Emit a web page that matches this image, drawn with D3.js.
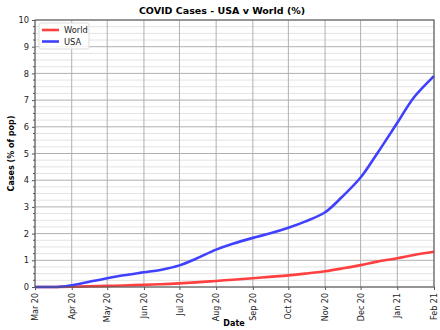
<!DOCTYPE html>
<html><head><meta charset="utf-8">
<script src="https://cdn.jsdelivr.net/npm/d3@7"></script>
<style>body{margin:0;background:#fff}svg{display:block;font-family:"DejaVu Sans",sans-serif}</style>
</head><body><svg id="c" width="440" height="330"></svg>
<script>
const dates = ["2020-03-01","2020-03-15","2020-03-22","2020-04-01","2020-04-15","2020-05-01","2020-05-15","2020-06-01","2020-06-15","2020-07-01","2020-07-15","2020-08-01","2020-08-15","2020-09-01","2020-09-15","2020-10-01","2020-10-15","2020-11-01","2020-11-15","2020-12-01","2020-12-15","2021-01-01","2021-01-15","2021-02-01"];
const usa = [0.0,0.001,0.01,0.065,0.19,0.33,0.44,0.55,0.64,0.81,1.06,1.40,1.62,1.84,2.0,2.22,2.45,2.8,3.36,4.1,5.0,6.15,7.1,7.9];
const world = [0.001,0.002,0.004,0.012,0.026,0.042,0.058,0.08,0.102,0.136,0.174,0.227,0.274,0.327,0.378,0.436,0.5,0.59,0.69,0.82,0.95,1.08,1.2,1.32];
const tickDates = ["2020-03-01","2020-04-01","2020-05-01","2020-06-01","2020-07-01","2020-08-01","2020-09-01","2020-10-01","2020-11-01","2020-12-01","2021-01-01","2021-02-01"];
const yTicks = [0,1,2,3,4,5,6,7,8,9,10];

const svg = d3.select("#c");
const m = {l:35, r:434, t:20, b:287};
const parse = d3.timeParse("%Y-%m-%d");
const x = d3.scaleTime().domain([parse(dates[0]), parse(dates[dates.length-1])]).range([m.l, m.r]);
const y = d3.scaleLinear().domain([0,10]).range([m.b, m.t]);

const minor = d3.range(0, 10.001, 0.25).filter(v => Math.abs(v - Math.round(v)) > 1e-6);
svg.append("g").selectAll("line").data(minor).join("line")
  .attr("x1", m.l).attr("x2", m.r).attr("y1", d=>y(d)).attr("y2", d=>y(d))
  .attr("stroke", "#e3e3e3").attr("stroke-width", 1);
svg.append("g").selectAll("line").data(yTicks).join("line")
  .attr("x1", m.l).attr("x2", m.r).attr("y1", d=>y(d)).attr("y2", d=>y(d))
  .attr("stroke", "#b0b0b0").attr("stroke-width", 1);
svg.append("g").selectAll("line").data(tickDates.map(parse)).join("line")
  .attr("x1", d=>x(d)).attr("x2", d=>x(d)).attr("y1", m.t).attr("y2", m.b)
  .attr("stroke", "#b0b0b0").attr("stroke-width", 1);

const line = d3.line().x((d,i)=>x(parse(dates[i]))).y(d=>y(d)).curve(d3.curveCatmullRom.alpha(0.5));
svg.append("path").datum(world).attr("d", line).attr("fill","none").attr("stroke","rgb(255,64,64)").attr("stroke-width",2.6);
svg.append("path").datum(usa).attr("d", line).attr("fill","none").attr("stroke","rgb(64,64,255)").attr("stroke-width",2.6);

svg.append("rect").attr("x", m.l).attr("y", m.t).attr("width", m.r-m.l).attr("height", m.b-m.t)
  .attr("fill","none").attr("stroke","#555").attr("stroke-width",1);

const yAxis = d3.axisLeft(y).tickValues(yTicks).tickSize(3).tickPadding(3).tickFormat(d3.format("d"));
const gy = svg.append("g").attr("transform",`translate(${m.l},0)`).call(yAxis);
gy.select(".domain").remove();
gy.selectAll("text").attr("font-size",8.3).attr("fill","#222").attr("font-family","DejaVu Sans");
gy.selectAll("line").attr("stroke","#555");
svg.append("g").selectAll("line").data(minor).join("line")
  .attr("x1", m.l-2).attr("x2", m.l).attr("y1", d=>y(d)).attr("y2", d=>y(d)).attr("stroke","#555");

const xAxis = d3.axisBottom(x).tickValues(tickDates.map(parse)).tickSize(3).tickFormat(d3.timeFormat("%b %y"));
const gx = svg.append("g").attr("transform",`translate(0,${m.b})`).call(xAxis);
gx.select(".domain").remove();
gx.selectAll("line").attr("stroke","#555");
gx.selectAll("text").attr("font-size",8).attr("fill","#222").attr("font-family","DejaVu Sans")
  .attr("transform","rotate(-90)").attr("text-anchor","end").attr("dx","-6").attr("dy","0.32em").attr("y",0).attr("x",0);

svg.append("text").attr("x",222).attr("y",14).attr("text-anchor","middle").attr("font-size",9.5).attr("font-weight","bold").text("COVID Cases - USA v World (%)");
svg.append("text").attr("x",234).attr("y",326).attr("text-anchor","middle").attr("font-size",8).attr("font-weight","bold").text("Date");
svg.append("text").attr("transform",`translate(14,${(m.t+m.b)/2}) rotate(-90)`).attr("text-anchor","middle").attr("font-size",8).attr("font-weight","bold").text("Cases (% of pop)");

const lg = svg.append("g");
lg.append("rect").attr("x",39).attr("y",23).attr("width",50).attr("height",26).attr("rx",2).attr("fill","#fff").attr("fill-opacity",0.85).attr("stroke","#ddd");
const items = [["World","rgb(255,64,64)"],["USA","rgb(64,64,255)"]];
items.forEach((it,i)=>{
  const yy = 30 + i*11.5;
  lg.append("line").attr("x1",42).attr("x2",59).attr("y1",yy).attr("y2",yy).attr("stroke",it[1]).attr("stroke-width",2.6);
  lg.append("text").attr("x",64).attr("y",yy+3).attr("font-size",8.3).attr("fill","#222").text(it[0]);
});
</script></body></html>
